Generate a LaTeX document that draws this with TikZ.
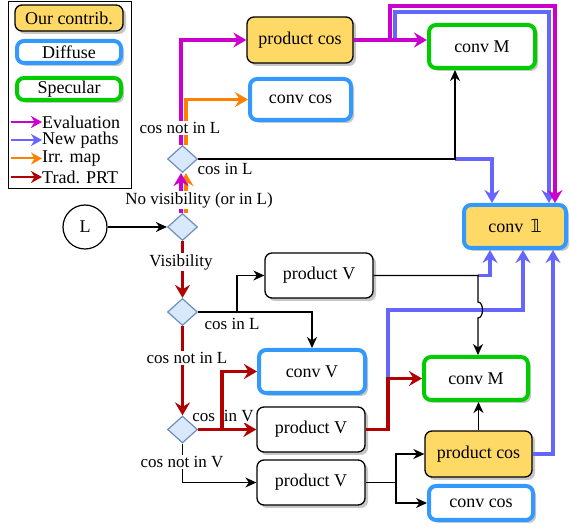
\documentclass[tikz,border=0pt]{standalone}
\usepackage{fontspec}
\setmainfont{Liberation Serif}
\usetikzlibrary{arrows.meta,shadows,shapes.geometric}
\IfFileExists{dsfont.sty}{\usepackage{dsfont}\newcommand\myone{$\mathds{1}$}}{\newfontfamily\djv{DejaVu Sans}\newcommand\myone{{\djv\symbol{"1D7D9}}}}
\newcommand\nf{\fontsize{18}{21}\selectfont}
\newcommand\lf{\fontsize{17}{20}\selectfont}
\definecolor{yellowc}{HTML}{FFD966}
\definecolor{bluec}{HTML}{3399FF}
\definecolor{greenc}{HTML}{00CC00}
\definecolor{magc}{HTML}{CC00CC}
\definecolor{newc}{HTML}{6666FF}
\definecolor{orgc}{HTML}{FF8000}
\definecolor{redc}{HTML}{B20000}
\definecolor{dfill}{HTML}{DAE8FC}
\definecolor{dline}{HTML}{6C8EBF}
\tikzset{
  base/.style={rounded corners=7pt, inner sep=0pt, font=\nf,
    drop shadow={shadow xshift=3pt, shadow yshift=-3pt, fill=black!22, opacity=1}},
  contrib/.style={base, draw=black, line width=1.3pt, fill=yellowc},
  diffuse/.style={base, draw=bluec, line width=4pt, fill=white},
  specular/.style={base, draw=greenc, line width=4pt, fill=white},
  plainbox/.style={base, draw=black, line width=1.3pt, fill=white},
  convone/.style={base, draw=bluec, line width=4pt, fill=yellowc},
  dec/.style={diamond, draw=dline, fill=dfill, line width=1.2pt, minimum width=30pt, minimum height=27pt, inner sep=0pt},
  bigtip/.style={-{Stealth[length=13pt,width=15pt,inset=4.5pt]}},
  smalltip/.style={-{Stealth[length=11pt,width=10pt,inset=3.5pt]}},
  evalc/.style={draw=magc, line width=3.5pt, bigtip},
  newp/.style={draw=newc, line width=3.5pt, bigtip},
  irr/.style={draw=orgc, line width=3.5pt, bigtip},
  trad/.style={draw=redc, line width=3.5pt, bigtip},
  blk/.style={draw=black, line width=1.2pt, smalltip},
  legarrow/.style={line width=2pt, -{Stealth[length=11pt,width=12pt,inset=3.5pt]}},
  lbl/.style={fill=white, inner sep=1pt, font=\lf},
  legtxt/.style={anchor=west, inner sep=0pt, font=\nf}
}
\begin{document}
\begin{tikzpicture}[x=1pt,y=-1pt]
\useasboundingbox (0,0) rectangle (571,529);

% legend
\node[draw, line width=1pt, minimum width=123pt, minimum height=187pt, inner sep=0pt] (legend) at (69.5,95.5) {};
\node[contrib, minimum width=108pt, minimum height=26pt] (lg1) at (69,18) {Our contrib.};
\node[diffuse, minimum width=104pt, minimum height=22pt] (lg2) at (69,52) {Diffuse};
\node[specular, minimum width=104pt, minimum height=22pt] (lg3) at (69,89) {Specular};
\node[legtxt] (t1) at (42,122) {Evaluation};
\node[legtxt] (t2) at (42,140) {New paths};
\node[legtxt] (t3) at (42,158.5) {Irr. map};
\node[legtxt] (t4) at (42,177) {Trad. PRT};
\coordinate (a1) at (11,122);
\coordinate (a2) at (11,140);
\coordinate (a3) at (11,158.5);
\coordinate (a4) at (11,177);
\draw[evalc, legarrow] (a1) -- (t1.west);
\draw[newp, legarrow] (a2) -- (t2.west);
\draw[irr, legarrow] (a3) -- (t3.west);
\draw[trad, legarrow] (a4) -- (t4.west);

% boxes
\node[contrib, minimum width=106pt, minimum height=46pt] (pcosT) at (300,40) {product cos};
\node[diffuse, minimum width=101pt, minimum height=41pt] (convcosT) at (300.5,99.5) {conv cos};
\node[specular, minimum width=106pt, minimum height=43pt] (convMT) at (482,46.5) {conv M};
\node[convone, minimum width=102pt, minimum height=43pt] (conv1) at (515,226.5) {conv\hspace{7pt}\myone};
\node[plainbox, minimum width=108pt, minimum height=45pt] (pVU) at (319,275.5) {product V};
\node[diffuse, minimum width=106pt, minimum height=43pt] (convV) at (312,371.5) {conv V};
\node[plainbox, minimum width=108pt, minimum height=45pt] (pVM) at (311,429.5) {product V};
\node[plainbox, minimum width=108pt, minimum height=45pt] (pVL) at (311,482.5) {product V};
\node[specular, minimum width=104pt, minimum height=43pt] (convMB) at (476,378.5) {conv M};
\node[contrib, minimum width=107pt, minimum height=46pt] (pcosB) at (478.5,454) {product cos};
\node[diffuse, minimum width=104pt, minimum height=34pt] (convcosB) at (481,503) {conv cos};

% decisions and source
\node[dec] (d1) at (182.5,159) {};
\node[dec] (d2) at (182.5,227) {};
\node[dec] (d3) at (182.5,312) {};
\node[dec] (d4) at (182.5,429.5) {};
\node[circle, draw, line width=1.2pt, minimum size=44pt, inner sep=0pt, font=\nf] (L) at (85,227) {L};

% coordinates
\coordinate (j1) at (455,159);
\coordinate (tb1) at (395,40);
\coordinate (tb2) at (395,12);
\coordinate (tb3) at (549,12);
\coordinate (tm1) at (390,40);
\coordinate (tm2) at (390,6);
\coordinate (tm3) at (555,6);
\coordinate (r1) at (388,429.5);
\coordinate (r2) at (388,310);
\coordinate (r3) at (523,310);
\coordinate (u1) at (478,275.5);
\coordinate (u2) at (490,275.5);
\coordinate (jA) at (478,302);
\coordinate (jB) at (478,318);
\coordinate (p1) at (553,454);
\coordinate (s1) at (396,482.5);
\coordinate (c3) at (237,312);
\coordinate (b4) at (222,429.5);

% top section
\draw[irr] ([xshift=3.5pt]d1.north) |- (convcosT.west);
\draw[evalc] ([xshift=-1.5pt]d1.north) |- (pcosT.west);
\node[lbl] at (180,128) {cos not in L};
\draw[newp] (j1) -| ([xshift=-23pt]conv1.north);
\draw[blk] (d1.east) -- (j1) -- (j1 |- convMT.south);
\node[font=\lf, inner sep=1pt] at (225,169) {cos in L};
\draw[newp] (pcosT.east) -- (tb1) -- (tb2) -- (tb3) -- (tb3 |- conv1.north);
\draw[evalc] (pcosT.east) -- (tm1) -- (tm2) -- (tm3) -- (tm3 |- conv1.north);
\draw[evalc] (pcosT.east) -- (pcosT.east -| convMT.west);

% middle
\draw[blk] (L) -- (d2);
\draw[irr] ([xshift=3.5pt]d2.north) -- ([xshift=3.5pt]d1.south);
\draw[evalc] ([xshift=-1.5pt]d2.north) -- ([xshift=-1.5pt]d1.south);
\node[lbl] at (199,200) {No visibility (or in L)};
\draw[trad] (d2.south) -- (d3.north);
\node[lbl] at (181,262) {Visibility};
\draw[blk] (d3.east) -- (c3) |- (pVU.west);
\draw[blk] (d3.east) -| (convV.north);
\node[font=\lf, inner sep=1pt] at (232,324) {cos in L};
\draw[trad] (d3.south) -- (d4.north);
\node[lbl] at (187,358) {cos not in L};
\draw[trad] (d4.east) -- (pVM.west);
\node[lbl] at (223,416) {cos\hspace{9pt}in V};
\draw[trad] (b4) |- (convV.west);
\draw[blk] (d4.south) |- (pVL.west);
\node[lbl] at (182,462) {cos not in V};

% lower right
\draw[newp] (pVM.east) -- (r1) -- (r2) -- (r3) -- (r3 |- conv1.south);
\draw[trad] (pVM.east) -- (r1) |- (convMB.west);
\draw[newp] (u1) -- (u2) -- (u2 |- conv1.south);
\draw[blk] (pVU.east) -- (u1) -- (jA) .. controls (484,302) and (484,318) .. (jB) -- (u1 |- convMB.north);
\draw[newp] (pcosB.east) -- (p1) -- (p1 |- conv1.south);
\draw[blk] (pcosB.north) -- (pcosB.north |- convMB.south);
\draw[blk] (pVL.east) -- (s1) |- (pcosB.west);
\draw[blk] (s1) |- (convcosB.west);
\end{tikzpicture}
\end{document}
